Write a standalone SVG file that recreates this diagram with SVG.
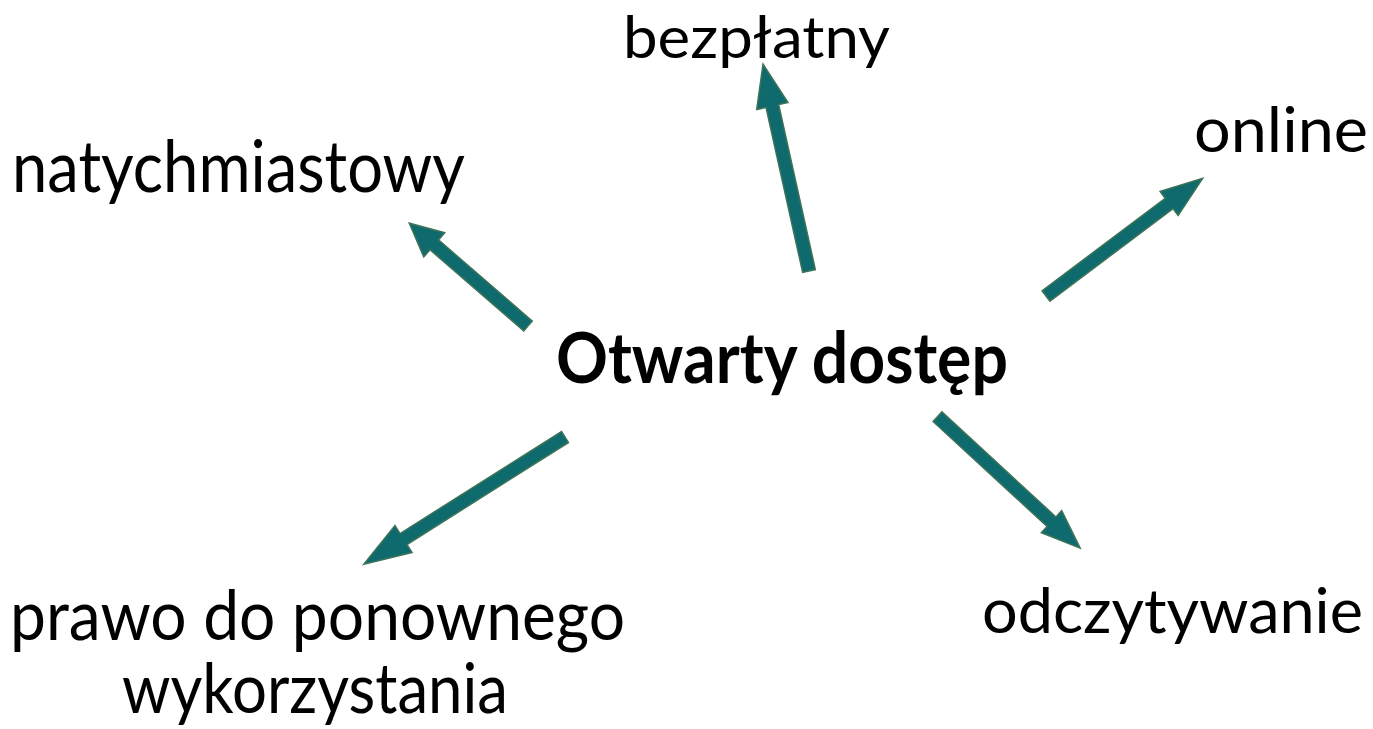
<svg xmlns="http://www.w3.org/2000/svg" width="1373" height="729" viewBox="0 0 1373 729">
<style>
.lbl{font-family:Lato,"Liberation Sans",sans-serif;fill:#000;}
.arr{fill:#0F6A6E;stroke:#3F7358;stroke-width:1.5;stroke-linejoin:miter;}
</style>
<rect width="1373" height="729" fill="#fff"/>
<g id="connectors">
<polygon class="arr" transform="translate(809,271) rotate(-102.53)" points="0,-6.5 169,-6.5 169,-16 212,0 169,16 169,6.5 0,6.5"/>
<polygon class="arr" transform="translate(528,326) rotate(-139.12)" points="0,-6.5 124,-6.5 124,-16 157,0 124,16 124,6.5 0,6.5"/>
<polygon class="arr" transform="translate(1046,296) rotate(-36.93)" points="0,-6.5 154,-6.5 154,-15 196,0 154,15 154,6.5 0,6.5"/>
<polygon class="arr" transform="translate(565,437) rotate(147.71)" points="0,-6.5 191,-6.5 191,-16 238,0 191,16 191,6.5 0,6.5"/>
<polygon class="arr" transform="translate(937.5,416.7) rotate(42.65)" points="0,-6.5 155,-6.5 155,-15 194,0 155,15 155,6.5 0,6.5"/>
</g>
<g id="center"><text class="lbl" x="556" y="383" font-size="70" font-weight="bold" textLength="452" lengthAdjust="spacingAndGlyphs">Otwarty dostęp</text></g>
<g id="n-natychmiastowy"><text class="lbl" x="12" y="192" font-size="71" textLength="453" lengthAdjust="spacingAndGlyphs">natychmiastowy</text></g>
<g id="n-bezplatny"><text class="lbl" x="623" y="58" font-size="58" textLength="267" lengthAdjust="spacingAndGlyphs">bezpłatny</text></g>
<g id="n-online"><text class="lbl" x="1194" y="152" font-size="61" textLength="174" lengthAdjust="spacingAndGlyphs">online</text></g>
<g id="n-prawo"><text class="lbl" x="10" y="640" font-size="70" textLength="615" lengthAdjust="spacingAndGlyphs">prawo do ponownego</text><text class="lbl" x="122" y="713" font-size="70" textLength="386" lengthAdjust="spacingAndGlyphs">wykorzystania</text></g>
<g id="n-odczytywanie"><text class="lbl" x="982" y="633" font-size="61" textLength="381" lengthAdjust="spacingAndGlyphs">odczytywanie</text></g>
</svg>
